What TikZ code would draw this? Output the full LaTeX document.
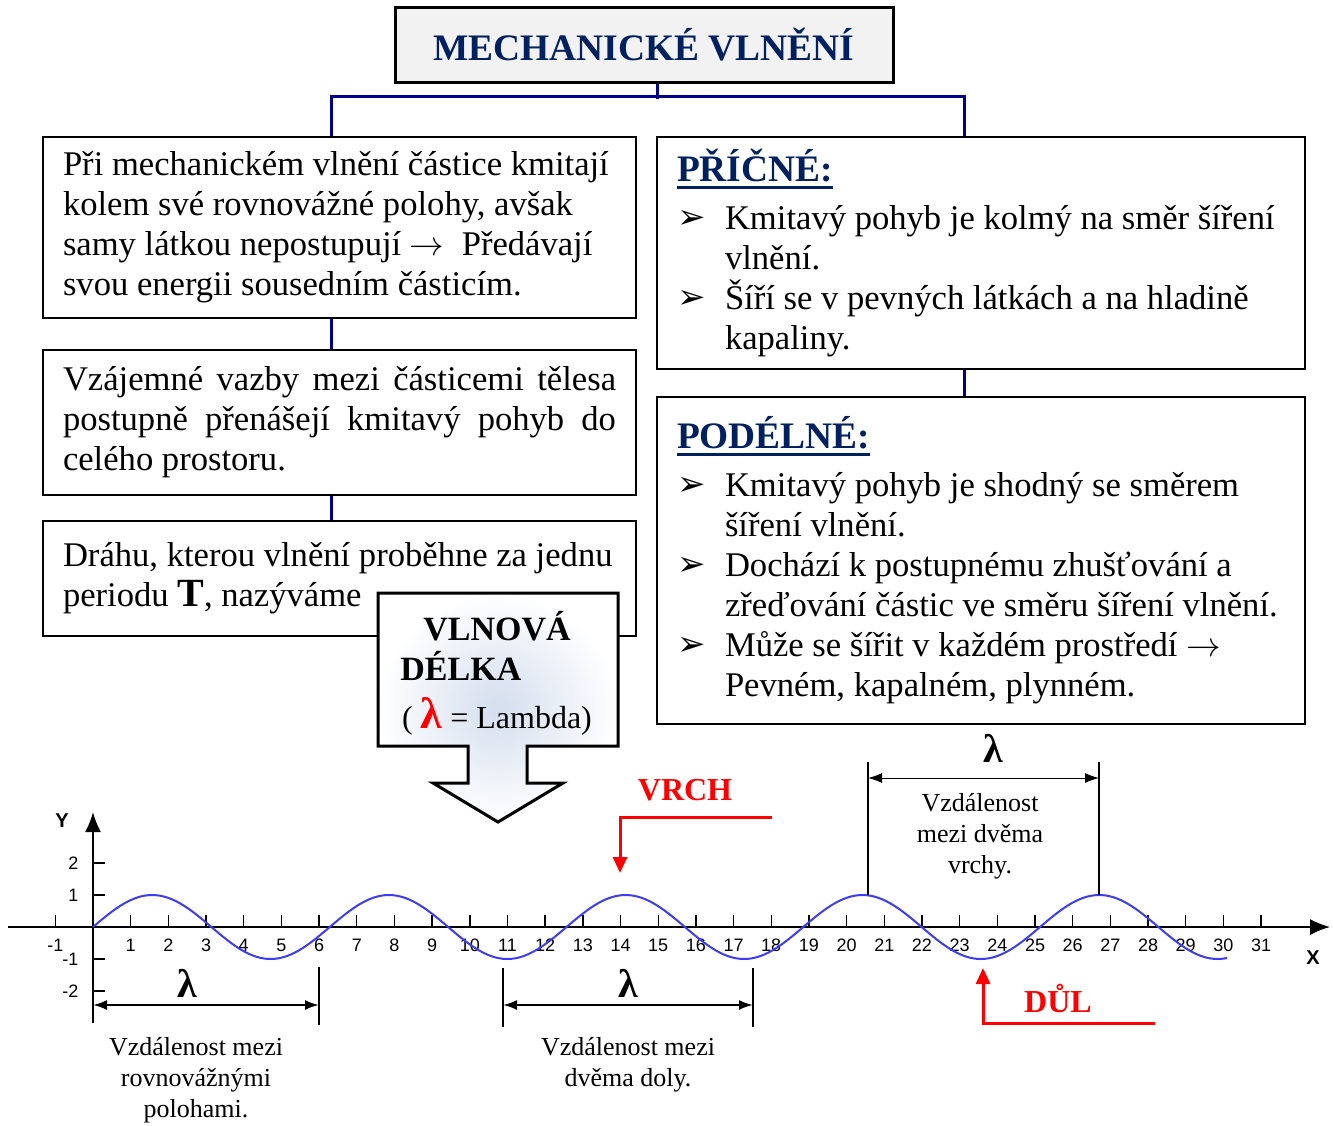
\documentclass[tikz,border=0pt]{standalone}
\usepackage{fontspec}
\setmainfont{Liberation Serif}
\setsansfont{Liberation Sans}
\newfontfamily\dejavu{DejaVu Sans}
\usetikzlibrary{arrows.meta}
\definecolor{navyline}{RGB}{0,0,140}
\definecolor{titleblue}{RGB}{0,32,96}
\definecolor{titlefill}{RGB}{242,242,242}
\definecolor{wavecol}{RGB}{60,60,245}
\definecolor{arrowmid}{RGB}{212,222,238}
\newcommand\bul{\makebox[24pt][l]{\raisebox{0.5pt}{\dejavu\fontsize{17}{20}\selectfont ➢}}}
\newcommand\ind{\hspace*{24pt}}
\newcommand\jline[1]{\makebox[276.5pt][s]{#1}}
\newcommand\hdr[1]{{\fontsize{18.7}{24}\selectfont\bfseries\color{titleblue}\setbox0\hbox{#1}\rlap{\rule[-3.5pt]{\wd0}{1.3pt}}\box0}}

\begin{document}
\begin{tikzpicture}[x=0.5pt,y=-0.5pt,>={Latex[length=7pt,width=5pt]},
  txtbox/.style={draw=black,line width=0.8pt,align=left,inner xsep=10pt,inner ysep=0pt,
    font=\fontsize{17.3}{20}\selectfont,
    execute at begin node={\spaceskip=0pt\xspaceskip=0pt\relax}},
  conn/.style={draw=navyline,line width=1.5pt},
  dimline/.style={line width=0.6pt},
  dimarrow/.style={<->,line width=1.1pt},
  lam/.style={font=\fontsize{20}{20}\selectfont\bfseries},
  dimcap/.style={align=center,font=\fontsize{13}{15.5}\selectfont},
  redarrow/.style={-{Triangle[length=8pt,width=7pt]},red,line width=1.5pt},
  redlbl/.style={red,font=\fontsize{16}{16}\selectfont\bfseries},
  ticklbl/.style={font=\sffamily\fontsize{9}{9}\selectfont,inner sep=0pt}]
  \useasboundingbox (0,0) rectangle (1333,1125);
%%
  % Node: title
  \node[draw=black,line width=1.5pt,fill=titlefill,minimum width=249pt,minimum height=37.5pt,
    text=titleblue,font=\fontsize{18.7}{18.7}\selectfont\bfseries] (title) at (644,44.5) {MECHANICKÉ VLNĚNÍ};
  % Node: box1
  \node[txtbox,text width=276.5pt,minimum height=90.5pt] (box1) at (339.5,227.5)
    {Při mechanickém vlnění částice kmitají\\
     kolem své rovnovážné polohy, avšak\\
     samy látkou nepostupují $\rightarrow$\ \ Předávají\\
     svou energii sousedním částicím.};
  % Node: box2
  \node[txtbox,text width=276.5pt,minimum height=72.5pt] (box2) at (339.5,422.5)
    {\jline{Vzájemné vazby mezi částicemi tělesa}\\
     \jline{postupně přenášejí kmitavý pohyb do}\\
     celého prostoru.};
  % Node: box3
  \node[txtbox,text width=276.5pt,minimum height=57.5pt] (box3) at (339.5,578.5)
    {Dráhu, kterou vlnění proběhne za jednu\\
     periodu {\fontsize{20}{20}\selectfont\bfseries T}, nazýváme};
  % Node: box4
  \node[txtbox,text width=304pt,minimum height=116pt] (box4) at (981,253)
    {\hdr{PŘÍČNÉ:}\\[4pt]
     \bul Kmitavý pohyb je kolmý na směr šíření\\
     \ind vlnění.\\
     \bul Šíří se v pevných látkách a na hladině\\
     \ind kapaliny.};
  % Node: box5
  \node[txtbox,text width=304pt,minimum height=163.5pt] (box5) at (981,560.5)
    {\hdr{PODÉLNÉ:}\\[4pt]
     \bul Kmitavý pohyb je shodný se směrem\\
     \ind šíření vlnění.\\
     \bul Dochází k postupnému zhušťování a\\
     \ind zřeďování částic ve směru šíření vlnění.\\
     \bul Může se šířit v každém prostředí $\rightarrow$\\
     \ind Pevném, kapalném, plynném.};
  % Edge: title -> box1, box4
  \draw[conn] ([xshift=6.5pt]title.south) -- ++(0,15);
  \draw[conn] ([xshift=-4.25pt]box1.north) -- ++(0,-40) -| ([xshift=-8.5pt]box4.north);
  % Edge: box1 -> box2 -> box3
  \draw[conn] ([xshift=-4.25pt]box1.south) -- ([xshift=-4.25pt]box2.north);
  \draw[conn] ([xshift=-4.25pt]box2.south) -- ([xshift=-4.25pt]box3.north);
  % Edge: box4 -> box5
  \draw[conn] ([xshift=-8.5pt]box4.south) -- ([xshift=-8.5pt]box5.north);
  % Node: vlnova delka (arrow)
  \shadedraw[line width=1.5pt,inner color=arrowmid,outer color=white]
    (378,593) -- (618,593) -- (618,746) -- (527,746) -- (527,783) -- (563,783) -- (498,822)
    -- (433,783) -- (468,783) -- (468,746) -- (378,746) -- cycle;
  \node[font=\fontsize{17}{17}\selectfont\bfseries] (vl1) at (497,626) {VLNOVÁ};
  \node[font=\fontsize{17}{17}\selectfont\bfseries,anchor=west,inner sep=0pt] (vl2) at (400,666) {DÉLKA};
  \node[font=\fontsize{16}{16}\selectfont] (vl3) at (497,716)
    {( {\color{red}\fontsize{22}{22}\selectfont\bfseries λ} = Lambda)};
  % Graph
  \begin{scope}[shift={(93,927)},x=18.84pt,y=16pt]
    \draw[line width=0.8pt,-{Latex[length=10pt,width=8pt]}] (-2.26,0) -- (32.83,0);
    \draw[line width=0.8pt,-{Latex[length=10pt,width=8pt]}] (0,-3) -- (0,3.59);
    \foreach \i in {-1,1,2,...,31}{
      \draw[line width=0.7pt] (\i,0) -- (\i,0.37);
      \node[ticklbl] (xt\i) at (\i,-0.56) {\i};
    }
    \foreach \j in {-2,-1,1,2}{
      \draw[line width=0.7pt] (0,\j) -- (0.32,\j);
      \node[ticklbl,anchor=east] (yt\j) at (-0.38,\j) {\j};
    }
    \node[font=\sffamily\bfseries\fontsize{10}{10}\selectfont] (ylbl) at (-0.82,3.34) {Y};
    \node[font=\sffamily\bfseries\fontsize{10}{10}\selectfont] (xlbl) at (32.38,-0.97) {X};
    \draw[wavecol,line width=1pt] plot[domain=0:30.1,samples=300,smooth] (\x,{sin(\x r)});
  \end{scope}
  % Edge: lambda between equilibria
  \coordinate (d1a) at (93,1005);
  \coordinate (d1b) at (319,1005);
  \draw[dimline] (319,967) -- (319,1025);
  \draw[dimarrow] (d1a) -- (d1b);
  \node[lam] (lam1) at (187,983) {λ};
  \node[dimcap] (cap1) at (196,1080) {Vzdálenost mezi\\rovnovážnými\\polohami.};
  % Edge: lambda between troughs
  \coordinate (d2a) at (503,1005);
  \coordinate (d2b) at (753,1005);
  \draw[dimline] (503,968) -- (503,1027);
  \draw[dimline] (753,968) -- (753,1027);
  \draw[dimarrow] (d2a) -- (d2b);
  \node[lam] (lam2) at (628,983) {λ};
  \node[dimcap] (cap2) at (628,1065) {Vzdálenost mezi\\dvěma doly.};
  % Edge: lambda between crests
  \coordinate (d3a) at (868,778);
  \coordinate (d3b) at (1099,778);
  \draw[dimline] (868,762) -- (868,895);
  \draw[dimline] (1099,762) -- (1099,895);
  \draw[<->,line width=0.5pt] (d3a) -- (d3b);
  \node[lam] (lam3) at (993,748) {λ};
  \node[dimcap] (cap3) at (980,836) {Vzdálenost\\mezi dvěma\\vrchy.};
  % Node: VRCH, DUL
  \node[redlbl] (vrch) at (685,790) {VRCH};
  \coordinate (vrchA) at (772,817);
  \coordinate (vrchB) at (620,873);
  \draw[redarrow] (vrchA) -| (vrchB);
  \node[redlbl] (dul) at (1058,998) {DŮL};
  \coordinate (dulA) at (1155,1023);
  \coordinate (dulB) at (983,968);
  \draw[redarrow] (dulA) -| (dulB);
%
\end{tikzpicture}
\end{document}
